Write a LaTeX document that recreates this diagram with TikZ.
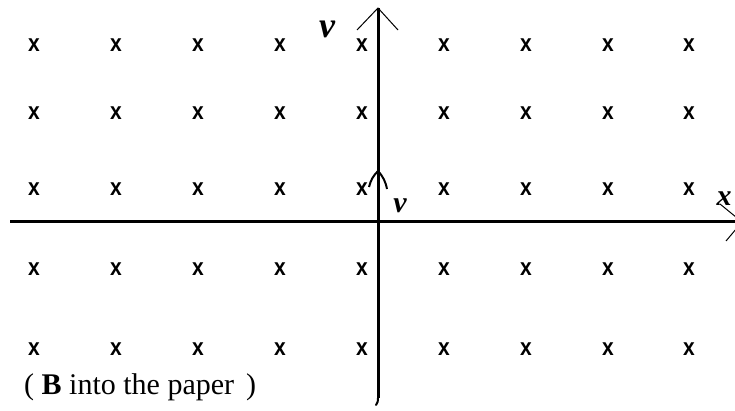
\documentclass[tikz,border=0pt]{standalone}
\usepackage{fontspec}
\setmainfont{Liberation Serif}
\newfontfamily\crossfont{Liberation Sans}
\begin{document}
\begin{tikzpicture}[x=1pt,y=-1pt,
  cross/.style={font=\crossfont\bfseries\fontsize{21}{21}\selectfont,inner sep=0pt},
  axis/.style={line width=3pt},
  head/.style={line width=1pt},
  lbl/.style={font=\fontsize{36}{36}\selectfont\bfseries\itshape,inner sep=0pt}]
\useasboundingbox (0,0) rectangle (735,411);
% crosses
\foreach \i/\cx in {1/34,2/116,3/198,4/280,5/362,6/444,7/526,8/608,9/689}{
  \foreach \j/\cy in {1/45,2/113,3/189,4/269,5/349}{
    \node[cross] (c\i\j) at (\cx,\cy) {\scalebox{1}[1.15]{x}};
  }
}
% axes
\coordinate (vb) at (376,405);
\coordinate (vbk) at (378,398);
\coordinate (vt) at (378,8);
\coordinate (hl) at (10,222);
\coordinate (hr) at (742,222);
\draw[axis] (vbk) -- (vt);
\draw[line width=2pt,line cap=round] (vbk) to[bend left=20] (vb);
\draw[axis] (hl) -- (hr);
\draw[head] (357,30) -- (vt) -- (398,30);
\draw[head] (720,204) -- (hr) -- (726,241);
% small velocity arrow
\coordinate (st) at (378,171);
\draw[line width=2pt] (st) -- (378,200);
\draw[line width=2pt] (369,187) to[bend left=15] (st) to[bend left=15] (387,189);
% labels
\node[lbl] (vtop) at (327,29) {v};
\node[lbl,font=\fontsize{30}{30}\selectfont\bfseries\itshape] (vsmall) at (400,206) {v};
\node[lbl,font=\fontsize{30}{30}\selectfont\bfseries\itshape] (xl) at (724,199) {x};
\node[anchor=west,inner sep=0pt,font=\fontsize{30}{30}\selectfont] (note) at (24,387) {( \textbf{B} into the paper\hspace{12pt})};
\end{tikzpicture}
\end{document}
